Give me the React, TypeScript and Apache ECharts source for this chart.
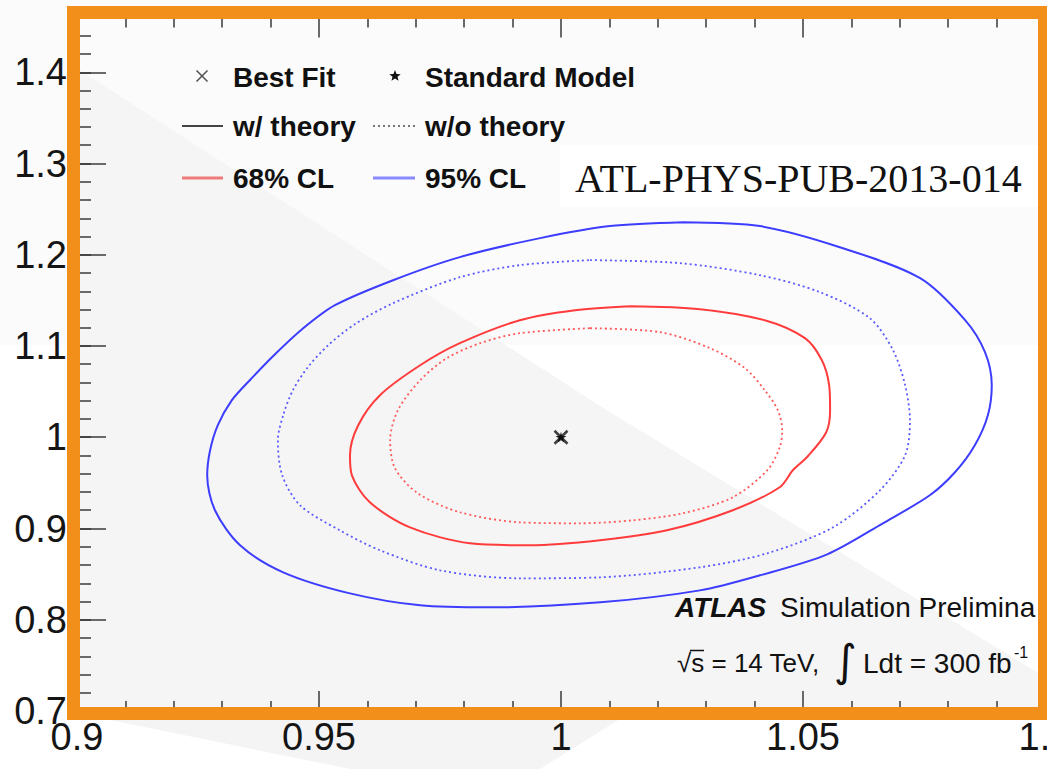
import React, { useEffect, useRef } from "react";
import * as echarts from "echarts";

// ---- axis ranges / ticks ----
const xMin = 0.9;
const xMax = 1.1;
const xStep = 0.05;
const yMin = 0.7;
const yMax = 1.46;
const yStep = 0.1;
const yMinorStep = 0.02;

// ---- contours (mu_x, mu_y) ----
const blue95Theory: number[][] = [
  [1.0252, 1.2357], [1.0411, 1.2314], [1.0576, 1.2083], [1.0742, 1.1743], [1.0835, 1.1283],
  [1.0876, 1.0932], [1.089, 1.057], [1.0882, 1.0241], [1.0855, 0.9912], [1.0814, 0.9616],
  [1.0762, 0.9364], [1.0665, 0.9057], [1.055, 0.8717], [1.0411, 0.8487], [1.0287, 0.8322],
  [1.0081, 0.8191], [0.9853, 0.8136], [0.9709, 0.8158], [0.9564, 0.8289], [0.9426, 0.852],
  [0.9337, 0.8816], [0.9285, 0.92], [0.9269, 0.9583], [0.9275, 0.9857], [0.9291, 1.0132],
  [0.932, 1.0406], [0.9357, 1.0625], [0.9407, 1.0899], [0.9465, 1.1184], [0.9533, 1.1447],
  [0.9653, 1.1721], [0.9791, 1.1974], [0.9957, 1.2182], [1.0101, 1.2314], [1.0252, 1.2357],
];

const blue95NoTheory: number[][] = [
  [1.006, 1.1941], [1.0246, 1.1908], [1.0411, 1.1776], [1.0535, 1.159], [1.0638, 1.1305],
  [1.0686, 1.0954], [1.0711, 1.057], [1.0721, 1.0186], [1.0711, 0.9803], [1.0659, 0.9419],
  [1.0562, 0.9013], [1.0426, 0.8728], [1.0287, 0.8575], [1.0081, 0.8465], [0.9915, 0.8454],
  [0.975, 0.8542], [0.9626, 0.8761], [0.9543, 0.898], [0.9461, 0.9254], [0.9424, 0.9583],
  [0.9415, 0.9967], [0.9426, 1.0241], [0.9446, 1.0515], [0.9477, 1.0768], [0.9519, 1.1009],
  [0.9574, 1.1239], [0.9653, 1.1469], [0.9791, 1.1754], [0.9915, 1.1886], [1.006, 1.1941],
];

const red68Theory: number[][] = [
  [1.0143, 1.1436], [1.0287, 1.1404], [1.0421, 1.1283], [1.0504, 1.1086], [1.0539, 1.0844],
  [1.0554, 1.057], [1.0556, 1.0296], [1.0548, 1.0055], [1.051, 0.9792], [1.0479, 0.9638],
  [1.0452, 0.9452], [1.0355, 0.92], [1.0219, 0.898], [1.0081, 0.8871], [0.9936, 0.8816],
  [0.9812, 0.8838], [0.9688, 0.9013], [0.9605, 0.9287], [0.9568, 0.9583], [0.9564, 0.9803],
  [0.9581, 1.0132], [0.9626, 1.0461], [0.9709, 1.0789], [0.9791, 1.1031], [0.9915, 1.1283],
  [1.0029, 1.1393], [1.0143, 1.1436],
];

const red68NoTheory: number[][] = [
  [1.006, 1.1195], [1.0205, 1.1151], [1.0308, 1.0976], [1.038, 1.0757], [1.0421, 1.0515],
  [1.0448, 1.0296], [1.0457, 1.0077], [1.0452, 0.989], [1.0426, 0.9638], [1.0355, 0.9342],
  [1.0252, 0.9167], [1.0149, 0.909], [1.0039, 0.9057], [0.9915, 0.9068], [0.9791, 0.9178],
  [0.9704, 0.9386], [0.9657, 0.966], [0.9647, 0.9967], [0.9663, 1.0296], [0.9709, 1.0625],
  [0.9764, 1.0866], [0.9833, 1.1031], [0.9915, 1.114], [1.006, 1.1195],
];

const bestFit: number[][] = [[1.0, 1.0]];
const standardModel: number[][] = [[1.0, 1.0]];

// ---- texts ----
const legendRow1 = ["Best Fit", "Standard Model"];
const legendRow2 = ["w/ theory", "w/o theory"];
const legendRow3 = ["68% CL", "95% CL"];
const noteLabel = "ATL-PHYS-PUB-2013-014";
const atlasBold = "ATLAS";
const atlasRest = "Simulation Prelimina";
const energyText = "√s = 14 TeV,";
const lumiText = "Ldt = 300 fb";

const SANS = "'Liberation Sans', Arial, Helvetica, sans-serif";
const SERIF = "'Liberation Serif', 'Times New Roman', serif";

function starPoints(cx: number, cy: number, r: number, ri: number): number[][] {
  const pts: number[][] = [];
  for (let i = 0; i < 10; i++) {
    const a = -Math.PI / 2 + (i * Math.PI) / 5;
    const rr = i % 2 === 0 ? r : ri;
    pts.push([cx + rr * Math.cos(a), cy + rr * Math.sin(a)]);
  }
  return pts;
}

const crossPath = "path://M0,0L10,10M10,0L0,10";
const starPath =
  "path://M5,0L6.2,3.6L10,3.6L6.9,5.9L8.1,9.5L5,7.3L1.9,9.5L3.1,5.9L0,3.6L3.8,3.6Z";

export default function App() {
  const ref = useRef<HTMLDivElement>(null);

  useEffect(() => {
    if (!ref.current) return;
    const chart = echarts.init(ref.current, null, { renderer: "svg" });

    const tickColor = "#3a3a3a";
    const labelStyle = { color: "#151515", fontSize: 38, fontFamily: SANS };

    const lineSeries = (name: string, data: number[][], color: string, dotted: boolean) => ({
      name,
      type: "line",
      data,
      showSymbol: false,
      smooth: 0.3,
      smoothConstraint: false,
      z: 3,
      lineStyle: {
        color,
        width: dotted ? 1.8 : 2,
        type: dotted ? [2, 3] : "solid",
      },
    });

    const legendText = (text: string, x: number, y: number) => ({
      type: "text",
      z: 60,
      x,
      y,
      style: {
        text,
        fill: "#111",
        font: `bold 28px ${SANS}`,
        verticalAlign: "middle",
        align: "left",
      },
    });

    const legendLine = (x1: number, x2: number, y: number, color: string, width: number, dash?: number[]) => ({
      type: "line",
      z: 60,
      shape: { x1, y1: y, x2, y2: y },
      style: { stroke: color, lineWidth: width, lineDash: dash || null },
    });

    const option: any = {
      animation: false,
      backgroundColor: "#ffffff",
      grid: { left: 77, top: 17.5, width: 968, height: 693.5, outerBoundsMode: "none" },
      xAxis: [
        {
          type: "value",
          min: xMin,
          max: xMax,
          interval: xStep,
          position: "bottom",
          axisLine: { show: false },
          splitLine: { show: false },
          axisTick: { show: true, inside: true, length: 20, lineStyle: { color: tickColor, width: 1.5 } },
          minorTick: { show: true, splitNumber: 5, length: 10, lineStyle: { color: tickColor, width: 1.5 } },
          axisLabel: { ...labelStyle, margin: 7, showMinLabel: true, showMaxLabel: true },
        },
        {
          type: "value",
          min: xMin,
          max: xMax,
          interval: xStep,
          position: "top",
          axisLine: { show: false },
          splitLine: { show: false },
          axisTick: { show: true, inside: true, length: 20, lineStyle: { color: tickColor, width: 1.5 } },
          minorTick: { show: true, splitNumber: 5, length: 10, lineStyle: { color: tickColor, width: 1.5 } },
          axisLabel: { show: false },
        },
      ],
      yAxis: [
        {
          type: "value",
          min: yMin,
          max: yMax,
          interval: yStep,
          position: "left",
          offset: 0,
          axisLine: { show: false },
          splitLine: { show: false },
          axisTick: { show: true, inside: true, length: 29, lineStyle: { color: tickColor, width: 1.5 } },
          axisLabel: { ...labelStyle, margin: 10, showMinLabel: true, showMaxLabel: false },
        },
        {
          type: "value",
          min: yMin,
          max: yMax,
          interval: yMinorStep,
          position: "left",
          offset: 0,
          axisLine: { show: false },
          splitLine: { show: false },
          axisTick: { show: true, inside: true, length: 14, lineStyle: { color: tickColor, width: 1.5 } },
          axisLabel: { show: false },
        },
      ],
      series: [
        lineSeries("95% CL w/ theory", blue95Theory, "#3d3dff", false),
        lineSeries("95% CL w/o theory", blue95NoTheory, "#5a5aff", true),
        lineSeries("68% CL w/ theory", red68Theory, "#ff3b3b", false),
        lineSeries("68% CL w/o theory", red68NoTheory, "#ff5a5a", true),
        {
          name: "Best Fit",
          type: "scatter",
          data: bestFit,
          symbol: crossPath,
          symbolSize: 13,
          z: 5,
          itemStyle: { color: "#111", borderColor: "#111", borderWidth: 2.5 },
        },
        {
          name: "Standard Model",
          type: "scatter",
          data: standardModel,
          symbol: starPath,
          symbolSize: 11,
          z: 6,
          itemStyle: { color: "#000" },
        },
      ],
      graphic: [
        // page background bands
        { type: "rect", z: -20, silent: true, shape: { x: 0, y: 0, width: 1047, height: 345 }, style: { fill: "#fbfbfb" } },
        { type: "rect", z: -20, silent: true, shape: { x: 0, y: 345, width: 1047, height: 424 }, style: { fill: "#ffffff" } },
        // grey diagonal wedge
        {
          type: "polygon",
          z: -15,
          silent: true,
          shape: { points: [[78, 69], [600, 406], [1040, 674], [1040, 712], [78, 712]] },
          style: { fill: "#f5f5f5" },
        },
        {
          type: "polygon",
          z: -15,
          silent: true,
          shape: { points: [[105, 719], [620, 719], [540, 769], [350, 769]] },
          style: { fill: "#f4f4f4" },
        },
        // legend
        { type: "line", z: 60, shape: { x1: 196.5, y1: 70.5, x2: 207.5, y2: 81.5 }, style: { stroke: "#555", lineWidth: 1.6 } },
        { type: "line", z: 60, shape: { x1: 196.5, y1: 81.5, x2: 207.5, y2: 70.5 }, style: { stroke: "#555", lineWidth: 1.6 } },
        { type: "polygon", z: 60, shape: { points: starPoints(395, 76, 6, 2.6) }, style: { fill: "#111" } },
        legendText(legendRow1[0], 233, 77),
        legendText(legendRow1[1], 425, 77),
        legendLine(182, 223, 126, "#444", 2),
        legendLine(373, 415, 126, "#777", 1.8, [2, 3]),
        legendText(legendRow2[0], 233, 126),
        legendText(legendRow2[1], 425, 126),
        legendLine(182, 223, 178, "#f07a7a", 3),
        legendLine(373, 415, 178, "#8a8aff", 3),
        legendText(legendRow3[0], 233, 178),
        legendText(legendRow3[1], 425, 178),
        // note box
        { type: "rect", z: 55, shape: { x: 560, y: 145, width: 480, height: 62 }, style: { fill: "#ffffff" } },
        {
          type: "text",
          z: 56,
          x: 575,
          y: 178,
          style: { text: noteLabel, fill: "#111", font: `40px ${SERIF}`, verticalAlign: "middle", align: "left" },
        },
        // ATLAS label
        {
          type: "text",
          z: 60,
          x: 675,
          y: 607,
          style: { text: atlasBold, fill: "#111", font: `italic bold 28px ${SANS}`, verticalAlign: "middle", align: "left" },
        },
        {
          type: "text",
          z: 60,
          x: 780,
          y: 607,
          style: { text: atlasRest, fill: "#111", font: `28px ${SANS}`, verticalAlign: "middle", align: "left" },
        },
        {
          type: "text",
          z: 60,
          x: 677,
          y: 663,
          style: { text: energyText, fill: "#111", font: `26px ${SANS}`, verticalAlign: "middle", align: "left" },
        },
        { type: "line", z: 60, shape: { x1: 690, y1: 650.5, x2: 704, y2: 650.5 }, style: { stroke: "#111", lineWidth: 1.5 } },
        {
          type: "text",
          z: 60,
          x: 834,
          y: 660,
          style: { text: "∫", fill: "#111", font: `44px 'DejaVu Sans', sans-serif`, verticalAlign: "middle", align: "left" },
        },
        {
          type: "text",
          z: 60,
          x: 863,
          y: 663,
          style: { text: lumiText, fill: "#111", font: `28px ${SANS}`, verticalAlign: "middle", align: "left" },
        },
        {
          type: "text",
          z: 60,
          x: 1014,
          y: 652,
          style: { text: "-1", fill: "#111", font: `16px ${SANS}`, verticalAlign: "middle", align: "left" },
        },
        // orange frame
        {
          type: "rect",
          z: 100,
          silent: true,
          shape: { x: 73.5, y: 12.5, width: 971, height: 701 },
          style: { fill: "none", stroke: "#f28f1b", lineWidth: 13 },
        },
      ],
    };

    chart.setOption(option);
    return () => chart.dispose();
  }, []);

  return (
    <div
      ref={ref}
      style={{ position: "absolute", left: 0, top: 0, width: 1047, height: 769 }}
    />
  );
}
